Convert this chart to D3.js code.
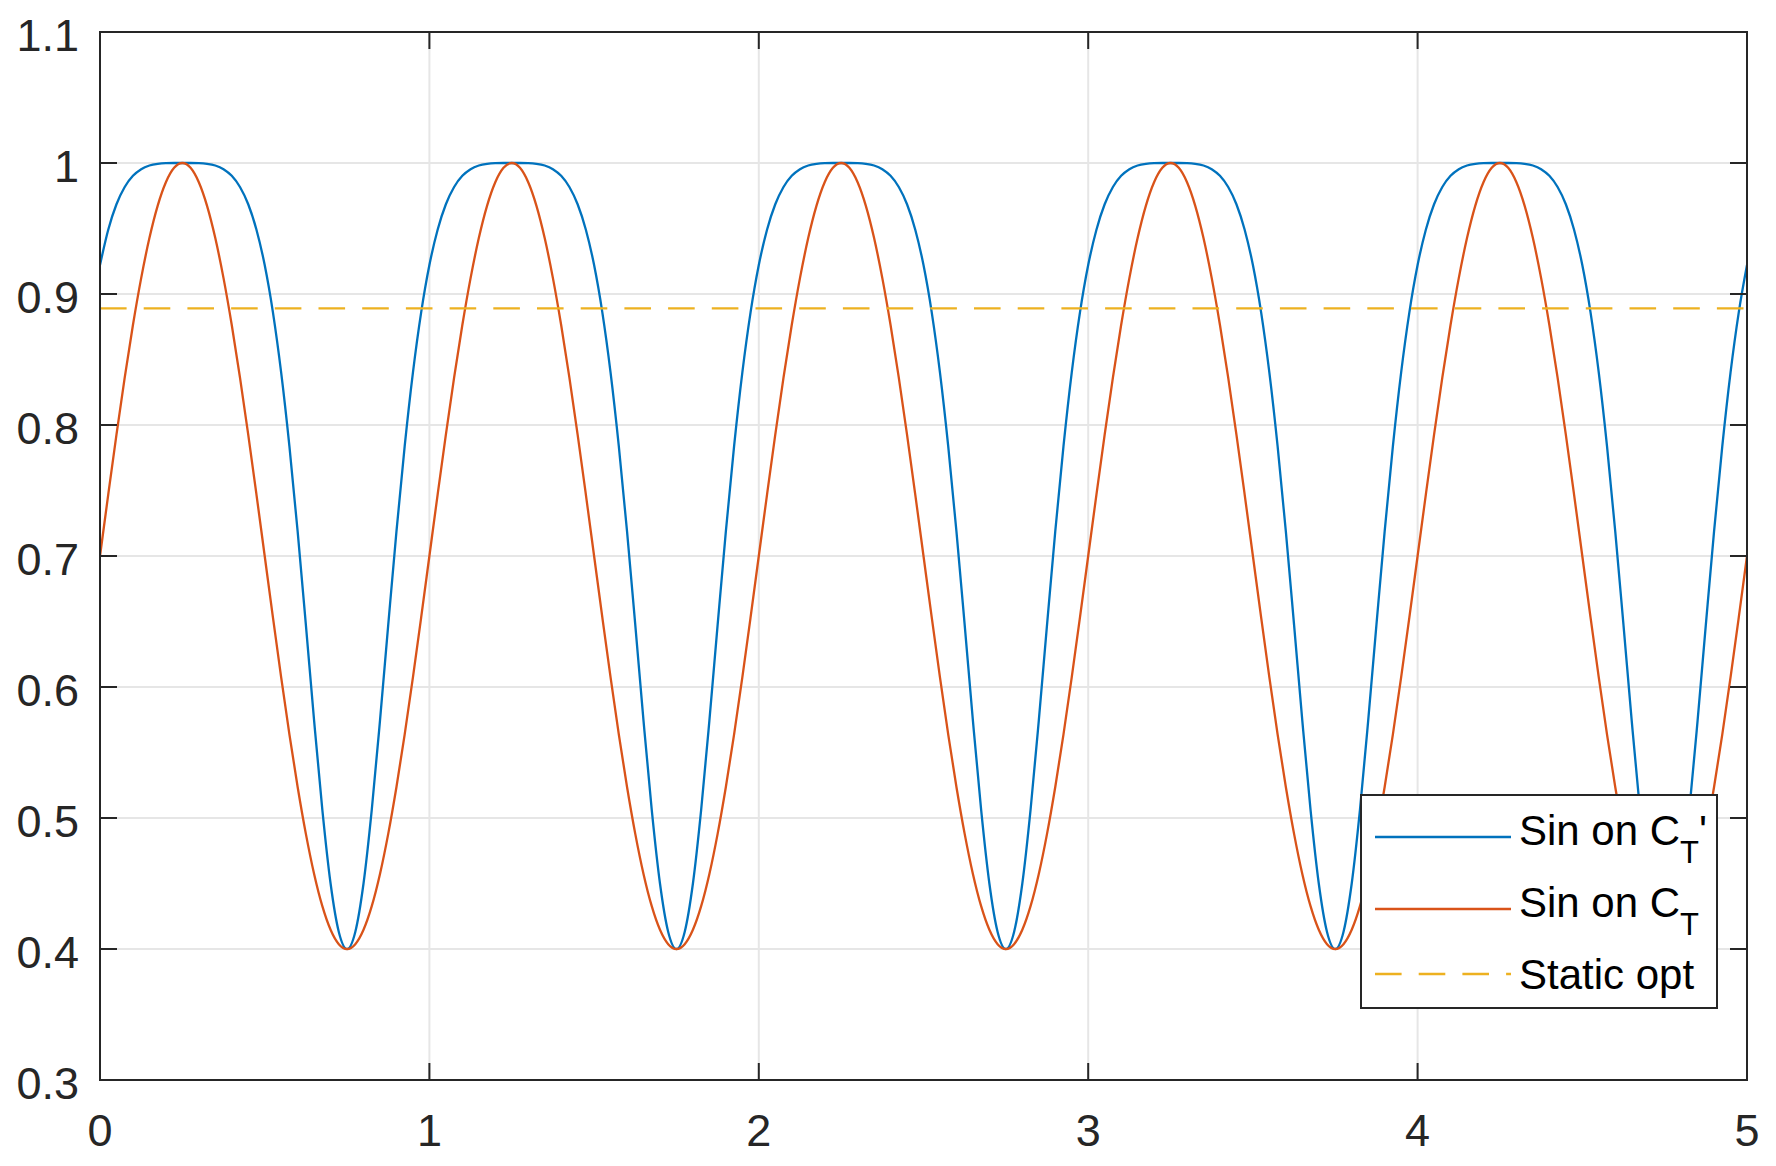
<!DOCTYPE html>
<html><head><meta charset="utf-8">
<script src="https://cdn.jsdelivr.net/npm/d3@7"></script>
<style>body{margin:0;background:#fff}svg{display:block}</style>
</head><body><svg id="chart" width="1776" height="1166"></svg>
<script>
// ---- data ----
const timeStart = 0, timeStep = 0.025;
const sinOnCTprime = [
0.9221,0.9491,0.9685,0.9817,0.9902,0.9953,0.9981,0.9994,0.9999,1.0,1.0,1.0,0.9999,0.9994,0.9981,0.9953,0.9902,0.9817,0.9685,0.9491,0.9221,0.8860,0.8400,0.7839,0.7188,0.6474,0.5744,0.5062,0.4500,0.4130,0.4,0.4130,0.4500,0.5062,0.5744,0.6474,0.7188,0.7839,0.8400,0.8860,
0.9221,0.9491,0.9685,0.9817,0.9902,0.9953,0.9981,0.9994,0.9999,1.0,1.0,1.0,0.9999,0.9994,0.9981,0.9953,0.9902,0.9817,0.9685,0.9491,0.9221,0.8860,0.8400,0.7839,0.7188,0.6474,0.5744,0.5062,0.4500,0.4130,0.4,0.4130,0.4500,0.5062,0.5744,0.6474,0.7188,0.7839,0.8400,0.8860,
0.9221,0.9491,0.9685,0.9817,0.9902,0.9953,0.9981,0.9994,0.9999,1.0,1.0,1.0,0.9999,0.9994,0.9981,0.9953,0.9902,0.9817,0.9685,0.9491,0.9221,0.8860,0.8400,0.7839,0.7188,0.6474,0.5744,0.5062,0.4500,0.4130,0.4,0.4130,0.4500,0.5062,0.5744,0.6474,0.7188,0.7839,0.8400,0.8860,
0.9221,0.9491,0.9685,0.9817,0.9902,0.9953,0.9981,0.9994,0.9999,1.0,1.0,1.0,0.9999,0.9994,0.9981,0.9953,0.9902,0.9817,0.9685,0.9491,0.9221,0.8860,0.8400,0.7839,0.7188,0.6474,0.5744,0.5062,0.4500,0.4130,0.4,0.4130,0.4500,0.5062,0.5744,0.6474,0.7188,0.7839,0.8400,0.8860,
0.9221,0.9491,0.9685,0.9817,0.9902,0.9953,0.9981,0.9994,0.9999,1.0,1.0,1.0,0.9999,0.9994,0.9981,0.9953,0.9902,0.9817,0.9685,0.9491,0.9221,0.8860,0.8400,0.7839,0.7188,0.6474,0.5744,0.5062,0.4500,0.4130,0.4,0.4130,0.4500,0.5062,0.5744,0.6474,0.7188,0.7839,0.8400,0.8860,
0.9221];
const sinOnCT = [
0.7,0.7469,0.7927,0.8362,0.8763,0.9121,0.9427,0.9673,0.9853,0.9963,1.0,0.9963,0.9853,0.9673,0.9427,0.9121,0.8763,0.8362,0.7927,0.7469,0.7,0.6531,0.6073,0.5638,0.5237,0.4879,0.4573,0.4327,0.4147,0.4037,0.4,0.4037,0.4147,0.4327,0.4573,0.4879,0.5237,0.5638,0.6073,0.6531,
0.7,0.7469,0.7927,0.8362,0.8763,0.9121,0.9427,0.9673,0.9853,0.9963,1.0,0.9963,0.9853,0.9673,0.9427,0.9121,0.8763,0.8362,0.7927,0.7469,0.7,0.6531,0.6073,0.5638,0.5237,0.4879,0.4573,0.4327,0.4147,0.4037,0.4,0.4037,0.4147,0.4327,0.4573,0.4879,0.5237,0.5638,0.6073,0.6531,
0.7,0.7469,0.7927,0.8362,0.8763,0.9121,0.9427,0.9673,0.9853,0.9963,1.0,0.9963,0.9853,0.9673,0.9427,0.9121,0.8763,0.8362,0.7927,0.7469,0.7,0.6531,0.6073,0.5638,0.5237,0.4879,0.4573,0.4327,0.4147,0.4037,0.4,0.4037,0.4147,0.4327,0.4573,0.4879,0.5237,0.5638,0.6073,0.6531,
0.7,0.7469,0.7927,0.8362,0.8763,0.9121,0.9427,0.9673,0.9853,0.9963,1.0,0.9963,0.9853,0.9673,0.9427,0.9121,0.8763,0.8362,0.7927,0.7469,0.7,0.6531,0.6073,0.5638,0.5237,0.4879,0.4573,0.4327,0.4147,0.4037,0.4,0.4037,0.4147,0.4327,0.4573,0.4879,0.5237,0.5638,0.6073,0.6531,
0.7,0.7469,0.7927,0.8362,0.8763,0.9121,0.9427,0.9673,0.9853,0.9963,1.0,0.9963,0.9853,0.9673,0.9427,0.9121,0.8763,0.8362,0.7927,0.7469,0.7,0.6531,0.6073,0.5638,0.5237,0.4879,0.4573,0.4327,0.4147,0.4037,0.4,0.4037,0.4147,0.4327,0.4573,0.4879,0.5237,0.5638,0.6073,0.6531,
0.7];
const staticOpt = 0.889;
const xDomain = [0, 5];
const yDomain = [0.3, 1.1];
const xTicks = [0, 1, 2, 3, 4, 5];
const xTickLabels = ["0", "1", "2", "3", "4", "5"];
const yTicks = [0.3, 0.4, 0.5, 0.6, 0.7, 0.8, 0.9, 1.0, 1.1];
const yTickLabels = ["0.3", "0.4", "0.5", "0.6", "0.7", "0.8", "0.9", "1", "1.1"];
const legendLabels = [["Sin on C", "T", "'"], ["Sin on C", "T", ""], ["Static opt", "", ""]];

// ---- drawing ----
const W = 1776, H = 1166;
const m = {left: 100, right: 1747, top: 32, bottom: 1080};
const colors = ["#0072BD", "#D95319", "#EDB120"];
const axisColor = "#262626";
const font = "'Liberation Sans', Arial, Helvetica, sans-serif";

const svg = d3.select("#chart");
const x = d3.scaleLinear().domain(xDomain).range([m.left, m.right]);
const y = d3.scaleLinear().domain(yDomain).range([m.bottom, m.top]);

svg.append("rect").attr("width", W).attr("height", H).attr("fill", "#fff");

// grid
const grid = svg.append("g");
grid.selectAll("line.gx").data(xTicks).join("line")
  .attr("x1", d => x(d)).attr("x2", d => x(d)).attr("y1", m.top).attr("y2", m.bottom)
  .attr("stroke", "#e6e6e6").attr("stroke-width", 2);
grid.selectAll("line.gy").data(yTicks).join("line")
  .attr("y1", d => y(d)).attr("y2", d => y(d)).attr("x1", m.left).attr("x2", m.right)
  .attr("stroke", "#e6e6e6").attr("stroke-width", 2);

// clip
svg.append("clipPath").attr("id", "clip").append("rect")
  .attr("x", m.left).attr("y", m.top).attr("width", m.right - m.left).attr("height", m.bottom - m.top);

const times = sinOnCT.map((_, i) => timeStart + i * timeStep);
const line = d3.line().x(d => x(d[0])).y(d => y(d[1])).curve(d3.curveMonotoneX);
const plot = svg.append("g").attr("clip-path", "url(#clip)");

plot.append("path").datum(times.map((t, i) => [t, sinOnCTprime[i]]))
  .attr("d", line).attr("fill", "none").attr("stroke", colors[0]).attr("stroke-width", 2.3);
plot.append("path").datum(times.map((t, i) => [t, sinOnCT[i]]))
  .attr("d", line).attr("fill", "none").attr("stroke", colors[1]).attr("stroke-width", 2.3);
plot.append("line")
  .attr("x1", x(xDomain[0])).attr("x2", x(xDomain[1])).attr("y1", y(staticOpt)).attr("y2", y(staticOpt))
  .attr("stroke", colors[2]).attr("stroke-width", 2.3).attr("stroke-dasharray", "26.6,17.1");

// axes box
const ax = svg.append("g").attr("stroke", axisColor).attr("stroke-width", 2);
ax.append("rect").attr("x", m.left).attr("y", m.top).attr("width", m.right - m.left).attr("height", m.bottom - m.top)
  .attr("fill", "none");
const tl = 17;
xTicks.forEach(t => {
  ax.append("line").attr("x1", x(t)).attr("x2", x(t)).attr("y1", m.bottom).attr("y2", m.bottom - tl);
  ax.append("line").attr("x1", x(t)).attr("x2", x(t)).attr("y1", m.top).attr("y2", m.top + tl);
});
yTicks.forEach(t => {
  ax.append("line").attr("y1", y(t)).attr("y2", y(t)).attr("x1", m.left).attr("x2", m.left + tl);
  ax.append("line").attr("y1", y(t)).attr("y2", y(t)).attr("x1", m.right).attr("x2", m.right - tl);
});

// tick labels
svg.selectAll("text.xt").data(xTicks).join("text")
  .attr("x", d => x(d)).attr("y", m.bottom + 66).attr("text-anchor", "middle")
  .attr("font-family", font).attr("font-size", 45).attr("fill", axisColor)
  .text((d, i) => xTickLabels[i]);
svg.selectAll("text.yt").data(yTicks).join("text")
  .attr("x", m.left - 21).attr("y", d => y(d) + 19).attr("text-anchor", "end")
  .attr("font-family", font).attr("font-size", 45).attr("fill", axisColor)
  .text((d, i) => yTickLabels[i]);

// legend
const lg = svg.append("g");
lg.append("rect").attr("x", 1361).attr("y", 795).attr("width", 356).attr("height", 213)
  .attr("fill", "#fff").attr("stroke", axisColor).attr("stroke-width", 2);
const rowY = [837, 909, 974];
const baseY = [845, 917, 989];
legendLabels.forEach((lab, i) => {
  const l = lg.append("line").attr("x1", 1375).attr("x2", 1511).attr("y1", rowY[i]).attr("y2", rowY[i])
    .attr("stroke", colors[i]).attr("stroke-width", 2.3);
  if (i === 2) l.attr("stroke-dasharray", "26.6,17.1");
  const t = lg.append("text").attr("x", 1519).attr("y", baseY[i])
    .attr("font-family", font).attr("font-size", 42).attr("fill", "#000");
  t.append("tspan").text(lab[0]);
  if (lab[1]) t.append("tspan").attr("font-size", 31).attr("dy", 17.7).text(lab[1]);
  if (lab[2]) t.append("tspan").attr("dy", -17.7).text(lab[2]);
});
</script></body></html>
